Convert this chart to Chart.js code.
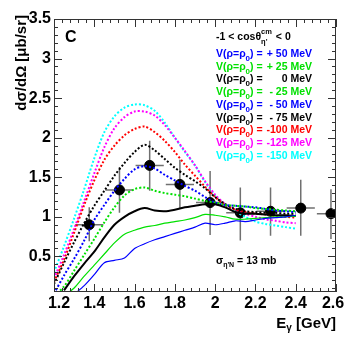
<!DOCTYPE html>
<html>
<head>
<meta charset="utf-8">
<script src="https://cdn.jsdelivr.net/npm/chart.js@4"></script>
<style>
  html, body { margin: 0; padding: 0; background: #fff; }
  canvas { display: block; }
</style>
</head>
<body>
<canvas id="etaChart" width="354" height="344"></canvas>
<script>
// photon energy grid of the model curves [GeV]
const energies = [1.2, 1.25, 1.3, 1.35, 1.4, 1.45, 1.5, 1.55, 1.6, 1.65, 1.7, 1.75, 1.8,
  1.85, 1.9, 1.95, 2.0, 2.05, 2.1, 2.15, 2.2, 2.25, 2.3, 2.35, 2.4];

// model curves, d sigma / d Omega [mub/sr], one per potential depth
const vPlus50 = [null, null, 0.02, 0.13, 0.27, 0.42, 0.45, 0.48, 0.6, 0.66, 0.71, 0.75, 0.79,
  0.83, 0.87, 0.92, 0.9, 0.92, 0.95, 0.94, 0.96, 0.98, 0.99, 1.0, 1.02];
const vPlus25 = [null, 0.0, 0.1, 0.25, 0.39, 0.53, 0.67, 0.78, 0.83, 0.87, 0.89, 0.92, 0.94,
  0.96, 0.99, 1.03, 1.02, 1.0, 0.97, 0.97, 0.98, 0.99, 1.0, 1.0, 1.01];
const v0 = [null, 0.07, 0.25, 0.41, 0.56, 0.74, 0.9, 1.0, 1.07, 1.11, 1.08, 1.07, 1.09,
  1.12, 1.14, 1.16, 1.16, 1.12, 1.06, 1.04, 1.04, 1.03, 1.02, 1.02, 1.01];
const vMinus25 = [0.0, 0.12, 0.32, 0.52, 0.72, 0.93, 1.12, 1.27, 1.35, 1.37, 1.33, 1.3, 1.28,
  1.26, 1.23, 1.2, 1.18, 1.15, 1.14, 1.13, 1.11, 1.1, 1.09, 1.08, 1.07];
const vMinus50 = [0.03, 0.26, 0.47, 0.7, 0.96, 1.15, 1.33, 1.48, 1.6, 1.64, 1.61, 1.53, 1.46,
  1.39, 1.33, 1.25, 1.18, 1.15, 1.14, 1.13, 1.12, 1.1, 1.08, 1.07, 1.06];
const vMinus75 = [0.15, 0.42, 0.68, 0.92, 1.14, 1.33, 1.52, 1.68, 1.82, 1.91, 1.84, 1.73, 1.62,
  1.53, 1.45, 1.36, 1.25, 1.16, 1.1, 1.07, 1.06, 1.05, 1.05, 1.04, 1.04];
const vMinus100 = [0.18, 0.46, 0.8, 1.15, 1.46, 1.72, 1.9, 2.03, 2.11, 2.14, 2.07, 1.96, 1.82,
  1.66, 1.52, 1.38, 1.25, 1.15, 1.09, 1.06, 1.04, 1.03, 1.01, 1.0, 0.99];
const vMinus125 = [0.22, 0.52, 0.85, 1.2, 1.55, 1.88, 2.12, 2.26, 2.33, 2.33, 2.28, 2.16, 2.0,
  1.83, 1.65, 1.45, 1.28, 1.16, 1.09, 1.04, 1.0, 0.97, 0.95, 0.93, 0.92];
const vMinus150 = [0.3, 0.63, 0.98, 1.35, 1.74, 2.07, 2.27, 2.38, 2.42, 2.41, 2.34, 2.19, 2.0,
  1.82, 1.65, 1.44, 1.27, 1.15, 1.07, 1.0, 0.94, 0.91, 0.89, 0.87, 0.85];

const curveLabels = ["+ 50 MeV", "+ 25 MeV", "0 MeV", "- 25 MeV", "- 50 MeV", "- 75 MeV",
  "-100 MeV", "-125 MeV", "-150 MeV"];
const curveValues = [vPlus50, vPlus25, v0, vMinus25, vMinus50, vMinus75, vMinus100, vMinus125, vMinus150];
const curveColors = ["#0000ff", "#00e000", "#000000", "#00e000", "#0000ff", "#000000",
  "#ff0000", "#ff00ff", "#00ffff"];
const curveDotted = [false, false, false, true, true, true, true, true, true];
const curveWidths = [1.2, 1.2, 2, 2, 2, 2, 2, 2, 2];

// measured points
const dataE = [1.375, 1.525, 1.675, 1.825, 1.975, 2.125, 2.275, 2.425, 2.575];
const dataXS = [0.9, 1.34, 1.65, 1.41, 1.18, 1.05, 1.07, 1.11, 1.04];
const dataLo = [0.69, 1.05, 1.33, 1.1, 0.77, 0.7, 0.76, 0.76, 0.72];
const dataHi = [1.12, 1.63, 1.96, 1.72, 1.58, 1.37, 1.37, 1.47, 1.35];
const dataEHalf = 0.07;

const xTicks = [1.2, 1.4, 1.6, 1.8, 2.0, 2.2, 2.4, 2.6];
const yTicks = [0.5, 1, 1.5, 2, 2.5, 3, 3.5];

const FONT = "'Liberation Sans', Arial, Helvetica, sans-serif";

const datasets = [];
curveValues.forEach((vals, i) => {
  datasets.push({
    type: "line",
    data: energies.map((e, k) => ({ x: e, y: vals[k] })),
    borderColor: curveColors[i],
    borderWidth: curveWidths[i],
    borderDash: curveDotted[i] ? [2, 2] : [],
    pointRadius: 0,
    tension: 0.3,
    fill: false,
    order: 0,
  });
});

// error bars: horizontal and vertical segments separated by gaps
const errPts = [];
dataE.forEach((e, i) => {
  errPts.push({ x: e - dataEHalf, y: dataXS[i] }, { x: e + dataEHalf, y: dataXS[i] }, { x: e, y: null });
  errPts.push({ x: e, y: dataLo[i] }, { x: e, y: dataHi[i] }, { x: e, y: null });
});
datasets.push({
  type: "line",
  data: errPts,
  borderColor: "#707070",
  borderWidth: 1.5,
  pointRadius: 0,
  spanGaps: false,
  order: 2,
});
datasets.push({
  type: "scatter",
  data: dataE.map((e, i) => ({ x: e, y: dataXS[i] })),
  backgroundColor: "#000",
  borderColor: "#000",
  pointRadius: 5,
  order: 1,
});

const decor = {
  id: "decor",
  afterDraw(chart) {
    const c = chart.ctx;
    const { left, right, top, bottom } = chart.chartArea;
    const xs = chart.scales.x, ys = chart.scales.y;
    c.save();
    c.strokeStyle = "#333";
    c.lineWidth = 1;
    c.strokeRect(left + 0.5, top + 0.5, right - left - 1, bottom - top - 1);
    c.beginPath();
    for (let i = 0; i <= 35; i++) {
      const px = Math.round(xs.getPixelForValue(1.2 + i * 0.04)) + 0.5;
      const len = i % 5 === 0 ? 8 : 4;
      c.moveTo(px, bottom); c.lineTo(px, bottom - len);
      c.moveTo(px, top); c.lineTo(px, top + len);
    }
    for (let i = 1; i <= 35; i++) {
      const py = Math.round(ys.getPixelForValue(i * 0.1)) + 0.5;
      const len = i % 5 === 0 ? 8 : 4;
      c.moveTo(left, py); c.lineTo(left + len, py);
      c.moveTo(right, py); c.lineTo(right - len, py);
    }
    c.stroke();

    c.fillStyle = "#000";
    // x tick labels (edge labels nudged inwards, as in the original)
    c.font = "bold 16px " + FONT;
    c.textAlign = "center";
    c.textBaseline = "top";
    xTicks.forEach((v, i) => {
      let px = xs.getPixelForValue(v);
      if (i === 0) px += 5;
      if (i === xTicks.length - 1) px -= 3;
      c.fillText(String(v), px, bottom + 4);
    });

    c.textBaseline = "alphabetic";
    // panel letter
    c.font = "bold 16px " + FONT;
    c.textAlign = "left";
    c.fillText("C", 65, 42);

    // axis titles
    c.font = "bold 15px " + FONT;
    c.textAlign = "right";
    c.fillText("[GeV]", 336, 328);
    const gw = c.measureText(" [GeV]").width;
    c.font = "bold 10px " + FONT;
    c.fillText("γ", 336 - gw, 331);
    const yw = c.measureText("γ").width;
    c.font = "bold 15px " + FONT;
    c.fillText("E", 336 - gw - yw, 328);

    c.save();
    c.translate(26, 15);
    c.rotate(-Math.PI / 2);
    c.textAlign = "right";
    c.fillText("dσ/dΩ [μb/sr]", 0, 0);
    c.restore();

    // header of the legend
    c.textAlign = "left";
    c.font = "bold 10.5px " + FONT;
    let x = 216;
    c.fillText("-1 < cosθ", x, 40);
    x += c.measureText("-1 < cosθ").width;
    c.font = "bold 7.5px " + FONT;
    c.fillText("cm", x, 34);
    c.fillText("η'", x, 44);
    x += c.measureText("cm").width + 1;
    c.font = "bold 10.5px " + FONT;
    c.fillText(" < 0", x, 40);

    // model legend
    curveLabels.forEach((lab, i) => {
      const y = 57 + i * 12.7;
      c.fillStyle = curveColors[i];
      c.textAlign = "left";
      c.font = "bold 10.5px " + FONT;
      let lx = 216;
      c.fillText("V(ρ=ρ", lx, y);
      lx += c.measureText("V(ρ=ρ").width;
      c.font = "bold 8px " + FONT;
      c.fillText("0", lx, y + 4);
      lx += c.measureText("0").width;
      c.font = "bold 10.5px " + FONT;
      c.fillText(") =", lx, y);
      c.textAlign = "right";
      c.fillText(lab, 312, y);
    });

    // cross-section note
    c.fillStyle = "#000";
    c.textAlign = "left";
    c.font = "bold 10.5px " + FONT;
    x = 216;
    c.fillText("σ", x, 264);
    x += c.measureText("σ").width;
    c.font = "bold 7px " + FONT;
    c.fillText("η'N", x, 267);
    x += c.measureText("η'N").width;
    c.font = "bold 10.5px " + FONT;
    c.fillText(" = 13 mb", x, 264);
    c.restore();
  },
};

const chart = new Chart(document.querySelector("#etaChart"), {
  type: "scatter",
  data: { datasets: datasets },
  options: {
    responsive: false,
    animation: false,
    layout: { padding: { left: 0, right: 18, top: 19, bottom: 0 } },
    plugins: { legend: { display: false }, tooltip: { enabled: false } },
    scales: {
      x: {
        type: "linear",
        min: 1.2,
        max: 2.6,
        grid: { display: false, drawTicks: false },
        border: { display: false },
        afterBuildTicks: (s) => { s.ticks = xTicks.map((v) => ({ value: v })); },
        afterFit: (s) => { s.height = 52; },
        ticks: { display: false },
      },
      y: {
        type: "linear",
        min: 0.05,
        max: 3.5,
        grid: { display: false, drawTicks: false },
        border: { display: false },
        afterBuildTicks: (s) => { s.ticks = yTicks.map((v) => ({ value: v })); },
        afterFit: (s) => { s.width = 54; },
        ticks: {
          autoSkip: false,
          padding: 3,
          color: "#000",
          font: { family: FONT, size: 16, weight: "bold" },
          callback: (v) => String(v),
        },
      },
    },
  },
  plugins: [decor],
});
</script>
</body>
</html>
